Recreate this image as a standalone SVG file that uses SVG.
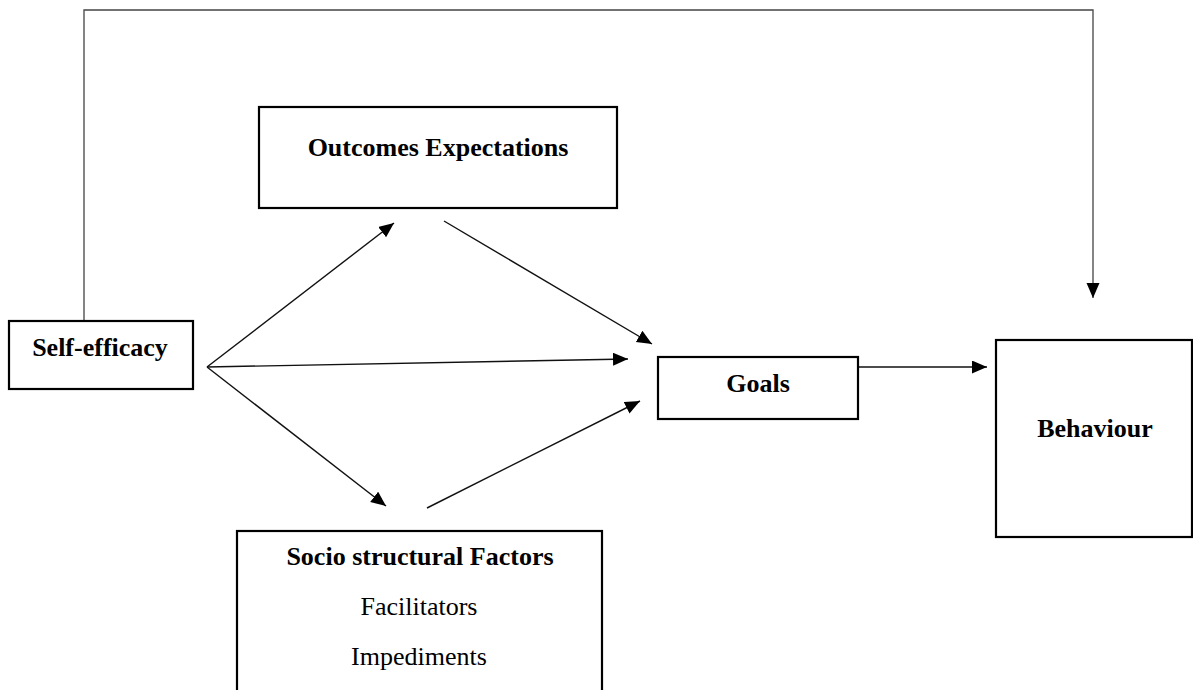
<svg xmlns="http://www.w3.org/2000/svg" width="1193" height="690" viewBox="0 0 1193 690">
  <defs>
    <marker id="arrow" markerUnits="userSpaceOnUse" markerWidth="16" markerHeight="14" refX="15" refY="6.5" orient="auto">
      <path d="M0,0 L15,6.5 L0,13 z" fill="#000"/>
    </marker>
    <style>
      .box { fill: #fff; stroke: #000; stroke-width: 2.2; }
      .label { font-size: 26px; fill: #000; text-anchor: middle; }
      .bold { font-weight: bold; }
      .edge { fill: none; stroke: #111; stroke-width: 1.4; marker-end: url(#arrow); }
      .loop { fill: none; stroke: #444; stroke-width: 1.3; marker-end: url(#arrow); }
    </style>
  </defs>
  <rect width="1193" height="690" fill="#fff"/>

  <!-- connectors -->
  <g id="connectors">
    <polyline class="loop" points="84,321 84,10 1093,10 1093,298"/>
    <line class="edge" x1="207" y1="367" x2="394" y2="223"/>
    <line class="edge" x1="207" y1="367" x2="628" y2="359"/>
    <line class="edge" x1="207" y1="367" x2="386" y2="506"/>
    <line class="edge" x1="444" y1="221" x2="652" y2="344"/>
    <line class="edge" x1="427" y1="508" x2="640" y2="401"/>
    <line class="edge" x1="858" y1="367" x2="987" y2="367"/>
  </g>

  <!-- nodes -->
  <g font-family="Liberation Serif, Times New Roman, serif">
    <g id="self-efficacy">
      <rect class="box" x="9" y="321" width="184" height="68"/>
      <text class="label bold" x="100" y="356">Self-efficacy</text>
    </g>
    <g id="outcomes-expectations">
      <rect class="box" x="259" y="107" width="358" height="101"/>
      <text class="label bold" x="438" y="156">Outcomes Expectations</text>
    </g>
    <g id="goals">
      <rect class="box" x="658" y="357" width="200" height="62"/>
      <text class="label bold" x="758" y="392">Goals</text>
    </g>
    <g id="behaviour">
      <rect class="box" x="996" y="340" width="196" height="197"/>
      <text class="label bold" x="1095" y="437">Behaviour</text>
    </g>
    <g id="socio-structural-factors">
      <rect class="box" x="237" y="531" width="365" height="175"/>
      <text class="label bold" x="420" y="565">Socio structural Factors</text>
      <text class="label" x="419" y="615">Facilitators</text>
      <text class="label" x="419" y="665">Impediments</text>
    </g>
  </g>
</svg>
